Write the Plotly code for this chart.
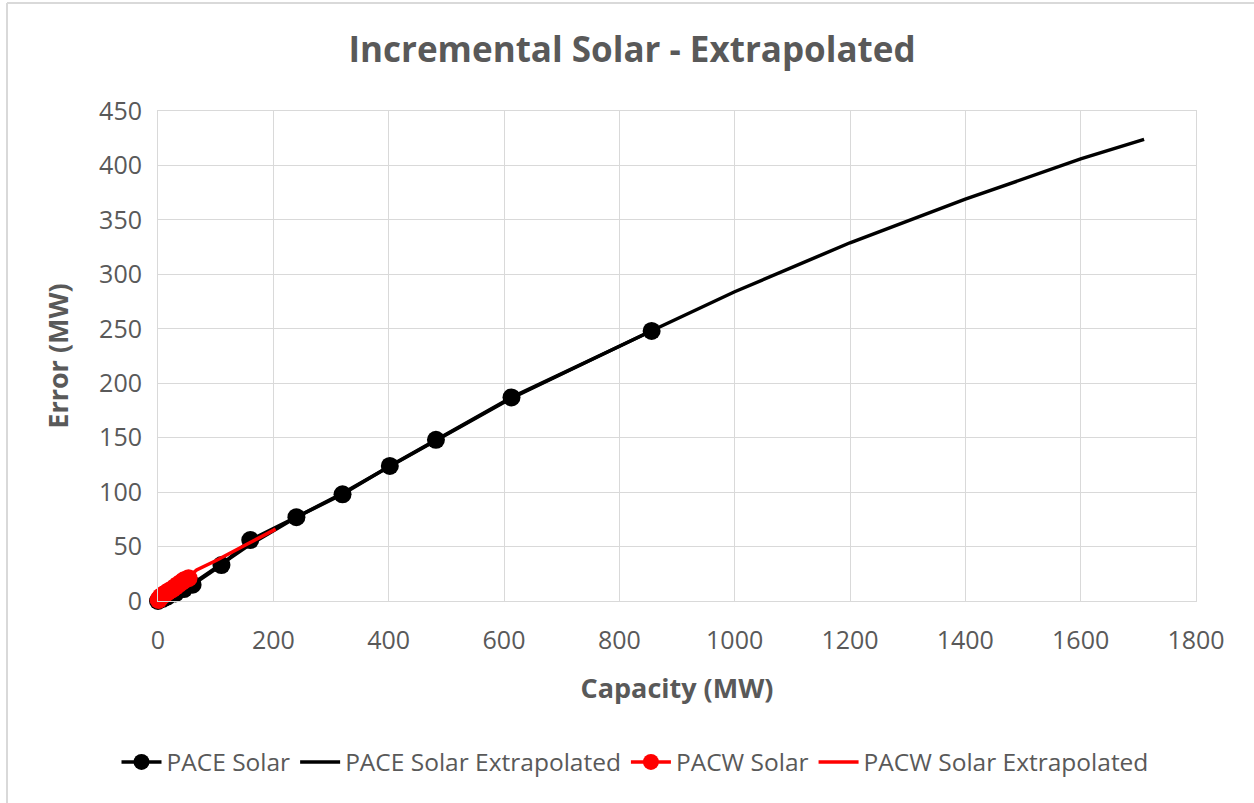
import plotly.graph_objects as go

# PACE Solar observed points (Capacity MW, Error MW)
pace_x = [0, 8, 16, 30, 45, 60, 110, 160, 240, 320, 402, 482, 613, 856]
pace_y = [0, 2, 4, 7, 11, 15, 33, 56, 77, 98, 124, 148, 187, 248]

# PACE Solar extrapolated curve
pace_ext_x = [0, 30, 60, 110, 160, 240, 320, 400, 480, 612, 855, 1000, 1200, 1400, 1600, 1710]
pace_ext_y = [0, 8, 16, 34, 52, 77, 99, 123, 147, 186, 248, 284, 329, 369, 406, 424]

# PACW Solar observed points
pacw_x = [1, 3, 5, 8, 10, 13, 16, 20, 25, 30, 35, 40, 45, 53]
pacw_y = [1, 2.5, 4, 5, 6, 7, 8, 9.5, 11, 13, 15, 17, 19, 21]

# PACW Solar extrapolated curve
pacw_ext_x = [0, 5, 10, 20, 35, 53, 67, 100, 150, 204]
pacw_ext_y = [0, 5, 8, 12, 17, 22, 28.5, 37, 51, 66]

x_ticks = [0, 200, 400, 600, 800, 1000, 1200, 1400, 1600, 1800]
y_ticks = [0, 50, 100, 150, 200, 250, 300, 350, 400, 450]

FONT = "Open Sans"
GRAY = "#595959"

fig = go.Figure()
fig.add_trace(go.Scatter(x=pace_x, y=pace_y, mode="lines+markers", name="PACE Solar",
                         line=dict(color="black", width=3.5), cliponaxis=False,
                         marker=dict(color="black", size=18)))
fig.add_trace(go.Scatter(x=pace_ext_x, y=pace_ext_y, mode="lines", name="PACE Solar Extrapolated",
                         line=dict(color="black", width=3.5), cliponaxis=False))
fig.add_trace(go.Scatter(x=pacw_x, y=pacw_y, mode="lines+markers", name="PACW Solar",
                         line=dict(color="#FF0000", width=3.5), cliponaxis=False,
                         marker=dict(color="#FF0000", size=18)))
fig.add_trace(go.Scatter(x=pacw_ext_x, y=pacw_ext_y, mode="lines", name="PACW Solar Extrapolated",
                         line=dict(color="#FF0000", width=3.5), cliponaxis=False))

fig.update_layout(
    width=1254, height=803,
    margin=dict(l=158, r=58, t=111, b=202),
    paper_bgcolor="white", plot_bgcolor="white",
    font=dict(family=FONT, color=GRAY, size=24),
    title=dict(text="<b>Incremental Solar - Extrapolated</b>", x=0.504, xanchor="center",
               y=1 - 50 / 803, yanchor="middle",
               font=dict(family=FONT, size=35, color=GRAY)),
    showlegend=True,
    legend=dict(orientation="h", x=(635 - 158) / 1038, xref="paper", xanchor="center",
                y=1 - 762 / 803, yref="container",
                yanchor="middle", font=dict(family=FONT, size=24.5, color=GRAY),
                itemwidth=40, traceorder="normal", bgcolor="rgba(0,0,0,0)"),
)
fig.update_xaxes(range=[0, 1800], tickvals=x_ticks, ticktext=[str(v) for v in x_ticks],
                 showgrid=True, gridcolor="#d9d9d9", gridwidth=1,
                 zeroline=False, showline=True, linecolor="#d9d9d9", linewidth=1, mirror=True,
                 ticks="", ticklabelstandoff=17,
                 tickfont=dict(family=FONT, size=25, color=GRAY),
                 title=dict(text="<b>Capacity (MW)</b>", standoff=24,
                            font=dict(family=FONT, size=27, color=GRAY)))
fig.update_yaxes(range=[0, 450], tickvals=y_ticks, ticktext=[str(v) for v in y_ticks],
                 showgrid=True, gridcolor="#d9d9d9", gridwidth=1,
                 zeroline=False, showline=True, linecolor="#d9d9d9", linewidth=1, mirror=True,
                 ticks="", ticklabelstandoff=10,
                 tickfont=dict(family=FONT, size=25, color=GRAY),
                 title=dict(text="<b>Error (MW)</b>", standoff=22,
                            font=dict(family=FONT, size=27, color=GRAY)))

# chart-area border (top and left edges visible in the crop)
fig.add_shape(type="line", xref="paper", yref="paper",
              x0=(7 - 158) / 1038, x1=(7 - 158) / 1038, y0=(601 - 803) / 490, y1=(601 - 3) / 490,
              line=dict(color="#d9d9d9", width=2))
fig.add_shape(type="line", xref="paper", yref="paper",
              x0=(7 - 158) / 1038, x1=(1254 - 158) / 1038, y0=(601 - 3) / 490, y1=(601 - 3) / 490,
              line=dict(color="#d9d9d9", width=2))

fig.write_html("out.html")
